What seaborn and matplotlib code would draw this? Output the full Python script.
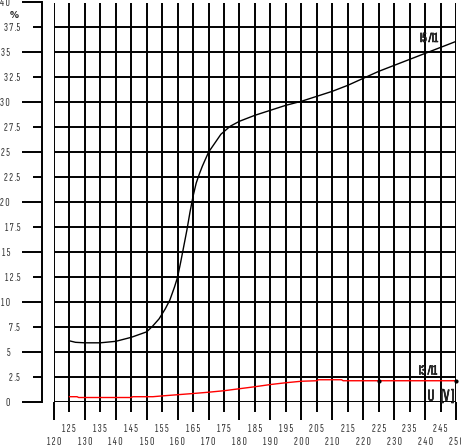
import matplotlib
matplotlib.use('Agg')
import matplotlib.pyplot as plt
import matplotlib.patheffects as pe
import seaborn as sns

# I5/I1 curve
volt_i5 = [125, 127, 130, 135, 140, 145, 150, 152, 154, 156, 157.5, 159, 160, 161, 162, 163,
           164, 165, 166, 167, 168, 170, 172, 174, 177, 180, 185, 190, 195, 200, 205, 210,
           215, 220, 225, 230, 235, 240, 245, 250]
ratio_i5 = [6.1, 5.95, 5.9, 5.9, 6.05, 6.45, 7.0, 7.6, 8.3, 9.3, 10.2, 11.5, 12.5, 14.0, 15.6, 17.2,
            19.0, 20.6, 21.9, 22.8, 23.6, 25.0, 25.9, 26.8, 27.6, 28.1, 28.7, 29.2, 29.7, 30.1, 30.6, 31.1,
            31.7, 32.4, 33.1, 33.7, 34.3, 34.9, 35.5, 36.1]

# I3/I1 curve
volt_i3 = [125, 127.5, 128, 145, 145.5, 152, 155, 160, 165, 170, 175, 180, 185, 190, 195,
           200, 205, 205.5, 213, 213.5, 225, 250]
ratio_i3 = [0.5, 0.5, 0.42, 0.42, 0.5, 0.5, 0.58, 0.7, 0.82, 0.95, 1.1, 1.3, 1.5, 1.72, 1.9,
            2.05, 2.1, 2.2, 2.2, 2.1, 2.1, 2.1]

x_major = list(range(120, 251, 10))
x_minor = list(range(125, 250, 10))
y_major = [0, 5, 10, 15, 20, 25, 30, 35, 40]
y_minor = [2.5, 7.5, 12.5, 17.5, 22.5, 27.5, 32.5, 37.5]
x_major_labels = ['1 2 0', '1 3 0', '1 4 0', '1 5 0', '1 6 0', '1 7 0', '1 8 0', '1 9 0',
                  '2 0 0', '2 1 0', '2 2 0', '2 3 0', '2 4 0', '2 5 0']
x_minor_labels = ['1 2 5', '1 3 5', '1 4 5', '1 5 5', '1 6 5', '1 7 5', '1 8 5', '1 9 5',
                  '2 0 5', '2 1 5', '2 2 5', '2 3 5', '2 4 5']
y_major_labels = ['0', '5', '1 0', '1 5', '2 0', '2 5', '3 0', '3 5', '4 0']
y_minor_labels = ['2 .5', '7 .5', '1 2 .5', '1 7 .5', '2 2 .5', '2 7 .5', '3 2 .5', '3 7 .5']

sns.set_style('white')
narrow = ['Sofia Sans Extra Condensed', 'Liberation Sans Narrow', 'DejaVu Sans']
plt.rcParams['font.family'] = narrow
tick_font = dict(family=narrow, size=8.5)
bold = [pe.withStroke(linewidth=0.45, foreground='black')]

W, H = 461, 447
fig = plt.figure(figsize=(W / 100, H / 100), dpi=100)
bottom = (H - 401.7) / H
height = (401.7 - 2.5) / H
ax = fig.add_axes([53.9 / W, bottom, (456 - 53.9) / W, height])
axl = fig.add_axes([22 / W, bottom, 20 / W, height])

lw = 1.4
# main grid
ax.set_xlim(120, 250)
ax.set_ylim(0, 40)
for v in x_major + x_minor:
    ax.axvline(v, color='black', lw=lw, zorder=1)
for v in y_major + y_minor:
    ax.axhline(v, color='black', lw=lw, zorder=1)
for s in ax.spines.values():
    s.set_visible(False)

ax.set_xticks(x_major)
ax.set_xticklabels(x_major_labels, fontdict=tick_font)
ax.set_xticks(x_minor, minor=True)
ax.set_xticklabels(x_minor_labels, minor=True, fontdict=tick_font)
ax.tick_params(axis='x', which='major', direction='out', length=13.2, width=lw, color='black',
               pad=12.5, labelcolor='#333333', bottom=True)
ax.tick_params(axis='x', which='minor', direction='out', length=7.4, width=lw, color='black',
               pad=8.5, labelcolor='#333333', bottom=True)
ax.set_yticks([])

sns.lineplot(x=volt_i5, y=ratio_i5, color='black', lw=1.0, ax=ax, sort=False, estimator=None, zorder=3)
sns.lineplot(x=volt_i3, y=ratio_i3, color='#ff0000', lw=1.0, ax=ax, sort=False, estimator=None, zorder=3)
ax.plot([225, 250], [2.1, 2.1], ls='none', marker='o', ms=2, color='black', zorder=4, clip_on=False)
ax.set_xlabel('')
ax.set_ylabel('')

# left scale strip
axl.set_xlim(0, 1)
axl.set_ylim(0, 40)
for v in y_major:
    axl.plot([0, 1], [v, v], color='black', lw=lw, clip_on=False, solid_capstyle='butt')
for v in y_minor:
    axl.plot([0.55, 1], [v, v], color='black', lw=lw, clip_on=False, solid_capstyle='butt')
for side in ['left', 'top', 'bottom']:
    axl.spines[side].set_visible(False)
axl.spines['right'].set_linewidth(lw)
axl.spines['right'].set_color('black')
axl.set_xticks([])
axl.set_yticks(y_major)
axl.set_yticklabels(y_major_labels, fontdict=tick_font)
axl.set_yticks(y_minor, minor=True)
axl.set_yticklabels(y_minor_labels, minor=True, fontdict=tick_font)
axl.tick_params(axis='y', which='major', length=0, pad=8.6, labelcolor='#333333', left=True)
axl.tick_params(axis='y', which='minor', length=0, pad=1.2, labelcolor='#333333', left=True)

# labels placed in figure pixels
fig.text(14.5 / W, 1 - 15.5 / H, '%', family='DejaVu Sans', size=6.5, weight='bold',
         ha='center', va='center')
fig.text(429 / W, 1 - 38.5 / H, 'I5 /I1', size=10, ha='center', va='center', path_effects=bold)
fig.text(428 / W, 1 - 371 / H, 'I3 /I1', size=10, ha='center', va='center', path_effects=bold)
fig.text(441 / W, 1 - 396.7 / H, 'U   [V ]', size=12, ha='center', va='center', path_effects=bold)

fig.savefig('out.png', dpi=100)
